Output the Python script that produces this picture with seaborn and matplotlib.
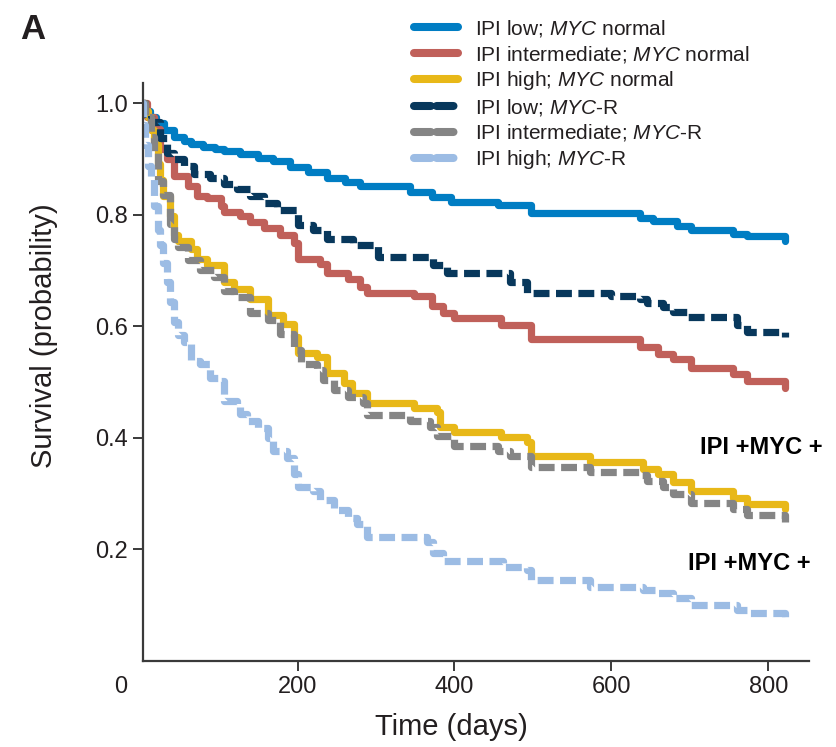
import numpy as np
import pandas as pd
import matplotlib
matplotlib.use("Agg")
import matplotlib.pyplot as plt
import seaborn as sns
from matplotlib.lines import Line2D
import matplotlib.transforms as mtransforms

# ---------------- data ----------------
t_low_norm = [0, 5, 12, 20, 30, 42, 55, 64, 80, 95, 106, 127, 150, 169, 191, 213, 238, 260, 280,
              344, 372, 395, 455, 497, 637, 653, 684, 701, 755, 773, 822]
s_low_norm = [1.0, 0.985, 0.975, 0.965, 0.952, 0.94, 0.932, 0.927, 0.922, 0.918, 0.914, 0.908, 0.902,
              0.897, 0.886, 0.877, 0.865, 0.858, 0.851, 0.841, 0.832, 0.823, 0.818, 0.803, 0.794, 0.788,
              0.780, 0.773, 0.766, 0.762, 0.752]

t_int_norm = [0, 8, 17, 25, 34, 42, 60, 72, 85, 102, 106, 127, 140, 157, 178, 195, 200, 229, 238, 264,
              280, 289, 348, 372, 386, 399, 459, 497, 637, 659, 679, 701, 755, 773, 822]
s_int_norm = [1.0, 0.975, 0.954, 0.918, 0.9, 0.87, 0.852, 0.834, 0.829, 0.816, 0.804, 0.798, 0.786,
              0.777, 0.763, 0.75, 0.72, 0.711, 0.695, 0.684, 0.671, 0.659, 0.654, 0.636, 0.623, 0.614,
              0.602, 0.578, 0.563, 0.55, 0.541, 0.525, 0.514, 0.502, 0.49]

t_high_norm = [0, 5, 9, 13, 17, 22, 25, 29, 38, 42, 47, 64, 72, 85, 106, 119, 140, 162, 182, 195, 200,
               225, 238, 259, 270, 289, 348, 378, 382, 399, 459, 493, 497, 573, 641, 659, 679, 701, 755,
               773, 822]
s_high_norm = [1.0, 0.985, 0.975, 0.952, 0.927, 0.891, 0.862, 0.834, 0.798, 0.763, 0.752, 0.738, 0.72,
               0.709, 0.68, 0.666, 0.648, 0.62, 0.604, 0.58, 0.552, 0.545, 0.516, 0.498, 0.48, 0.463,
               0.453, 0.446, 0.419, 0.41, 0.401, 0.392, 0.368, 0.356, 0.345, 0.336, 0.32, 0.305, 0.293,
               0.282, 0.272]

t_low_myc = [0, 5, 13, 25, 34, 42, 55, 68, 89, 106, 123, 140, 157, 174, 200, 220, 238, 271, 302, 373,
             391, 471, 493, 600, 637, 646, 666, 679, 697, 760, 773, 822]
s_low_myc = [1.0, 0.98, 0.966, 0.937, 0.911, 0.9, 0.888, 0.873, 0.866, 0.855, 0.846, 0.834, 0.821,
             0.809, 0.782, 0.773, 0.757, 0.746, 0.725, 0.709, 0.695, 0.68, 0.66, 0.655, 0.648, 0.641,
             0.634, 0.625, 0.616, 0.602, 0.59, 0.58]

t_int_myc = [0, 5, 13, 17, 22, 29, 38, 42, 47, 60, 76, 93, 106, 119, 140, 162, 178, 195, 204, 225, 233,
             246, 264, 284, 289, 344, 369, 378, 399, 455, 471, 497, 573, 637, 646, 666, 679, 701, 755,
             773, 822]
s_int_myc = [1.0, 0.975, 0.94, 0.91, 0.86, 0.835, 0.784, 0.757, 0.742, 0.718, 0.7, 0.688, 0.664, 0.652,
             0.623, 0.611, 0.587, 0.557, 0.533, 0.521, 0.503, 0.485, 0.473, 0.462, 0.441, 0.43, 0.419,
             0.404, 0.386, 0.377, 0.368, 0.348, 0.338, 0.333, 0.323, 0.311, 0.3, 0.284, 0.273, 0.261,
             0.25]

t_high_myc = [0, 3, 6, 9, 13, 17, 22, 25, 29, 34, 38, 42, 47, 55, 64, 76, 89, 102, 106, 123, 127, 136,
              149, 162, 169, 187, 195, 200, 220, 229, 246, 264, 276, 289, 365, 373, 386, 462, 493, 497,
              573, 641, 659, 679, 701, 760, 777, 822]
s_high_myc = [1.0, 0.96, 0.924, 0.888, 0.864, 0.816, 0.772, 0.745, 0.714, 0.679, 0.643, 0.607, 0.584,
              0.571, 0.538, 0.532, 0.507, 0.502, 0.466, 0.461, 0.443, 0.43, 0.418, 0.4, 0.377, 0.364,
              0.336, 0.311, 0.305, 0.288, 0.27, 0.257, 0.246, 0.222, 0.213, 0.193, 0.18, 0.168, 0.163,
              0.145, 0.132, 0.127, 0.122, 0.113, 0.1, 0.091, 0.086, 0.079]

groups = ["IPI low; $\\mathit{MYC}$ normal",
          "IPI intermediate; $\\mathit{MYC}$ normal",
          "IPI high; $\\mathit{MYC}$ normal",
          "IPI low; $\\mathit{MYC}$-R",
          "IPI intermediate; $\\mathit{MYC}$-R",
          "IPI high; $\\mathit{MYC}$-R"]
times = [t_low_norm, t_int_norm, t_high_norm, t_low_myc, t_int_myc, t_high_myc]
survs = [s_low_norm, s_int_norm, s_high_norm, s_low_myc, s_int_myc, s_high_myc]

x_ticks = [200, 400, 600, 800]
y_ticks = [0.2, 0.4, 0.6, 0.8, 1.0]
annot_text = "IPI +MYC +"

# ---------------- style ----------------
colors = ["#007dc3", "#c0605a", "#e8b818", "#08385c", "#858585", "#9cbce4"]
dashed = [False, False, False, True, True, True]

sns.set_theme(style="white")
FONT = "Liberation Sans"
plt.rcParams["font.family"] = [FONT, "DejaVu Sans"]
plt.rcParams["mathtext.fontset"] = "custom"
plt.rcParams["mathtext.rm"] = FONT
plt.rcParams["mathtext.it"] = FONT + ":italic"
plt.rcParams["mathtext.bf"] = FONT + ":bold"
TXT = "#231f20"
AX = "#3a3a3a"

fig = plt.figure(figsize=(8.37, 7.47), dpi=100)
ax = fig.add_axes([143 / 837, 1 - 661 / 747, (809 - 143) / 837, (661 - 83) / 747])

LW = 5.2
DASH = (2.2, 0.9)
handles = []
for g, t, s, c, d in zip(groups, times, survs, colors, dashed):
    df = pd.DataFrame({"time": t, "surv": s})
    kw = dict(color=c, linewidth=LW, drawstyle="steps-post")
    if d:
        kw.update(dashes=DASH, dash_capstyle="butt")
    sns.lineplot(data=df, x="time", y="surv", ax=ax, estimator=None, sort=False,
                 legend=False, **kw)
    h = Line2D([], [], color=c, linewidth=LW + 0.6, solid_capstyle="round")
    if d:
        h.set_dashes((2.1, 0.7, 2.1, 12))
        h.set_dash_capstyle("round")
    handles.append(h)

ax.set_xlim(3, 852)
ax.set_ylim(0, 1.036)
ax.set_xticks(x_ticks)
ax.set_yticks(y_ticks)
ax.set_xticklabels([str(v) for v in x_ticks])
ax.set_yticklabels([f"{v:.1f}" for v in y_ticks])
ax.set_xlabel("")
ax.set_ylabel("")
for sp in ["top", "right"]:
    ax.spines[sp].set_visible(False)
for sp in ["left", "bottom"]:
    ax.spines[sp].set_color(AX)
    ax.spines[sp].set_linewidth(1.6)
ax.tick_params(axis="both", which="major", bottom=True, left=True, direction="out",
               length=7, width=1.4, color=AX, labelcolor=TXT, labelsize=17)
ax.tick_params(axis="x", pad=4)
ax.tick_params(axis="y", pad=4)

# separate "0" label at origin (no tick mark)
trans = mtransforms.blended_transform_factory(ax.transData, ax.transAxes)
ax.text(-25, -0.045, "0", transform=trans, ha="center", va="center", fontsize=17,
        color=TXT, clip_on=False)

# axis titles
fig.text(44 / 837, 1 - 336 / 747, "Survival (probability)", rotation=90, ha="center",
         va="center", fontsize=21, color=TXT)
fig.text(451 / 837, 1 - 727 / 747, "Time (days)", ha="center", va="center",
         fontsize=21, color=TXT)

# panel letter
fig.text(20 / 837, 1 - 13 / 747, "A", ha="left", va="top", fontsize=25,
         fontweight="bold", color=TXT)

# annotations
ax.text(713, 0.382, annot_text, ha="left", va="center", fontsize=17, fontweight="bold",
        color="black", clip_on=False)
ax.text(698, 0.175, annot_text, ha="left", va="center", fontsize=17, fontweight="bold",
        color="black", clip_on=False)

leg = fig.legend(handles, groups, loc="upper left", bbox_to_anchor=(414 / 837, 1 - 18 / 747),
                 frameon=False, fontsize=15, handlelength=2.1, handletextpad=0.85,
                 labelspacing=0.22, borderpad=0, borderaxespad=0)
for txt in leg.get_texts():
    txt.set_color(TXT)

fig.savefig("out.png", dpi=100)
